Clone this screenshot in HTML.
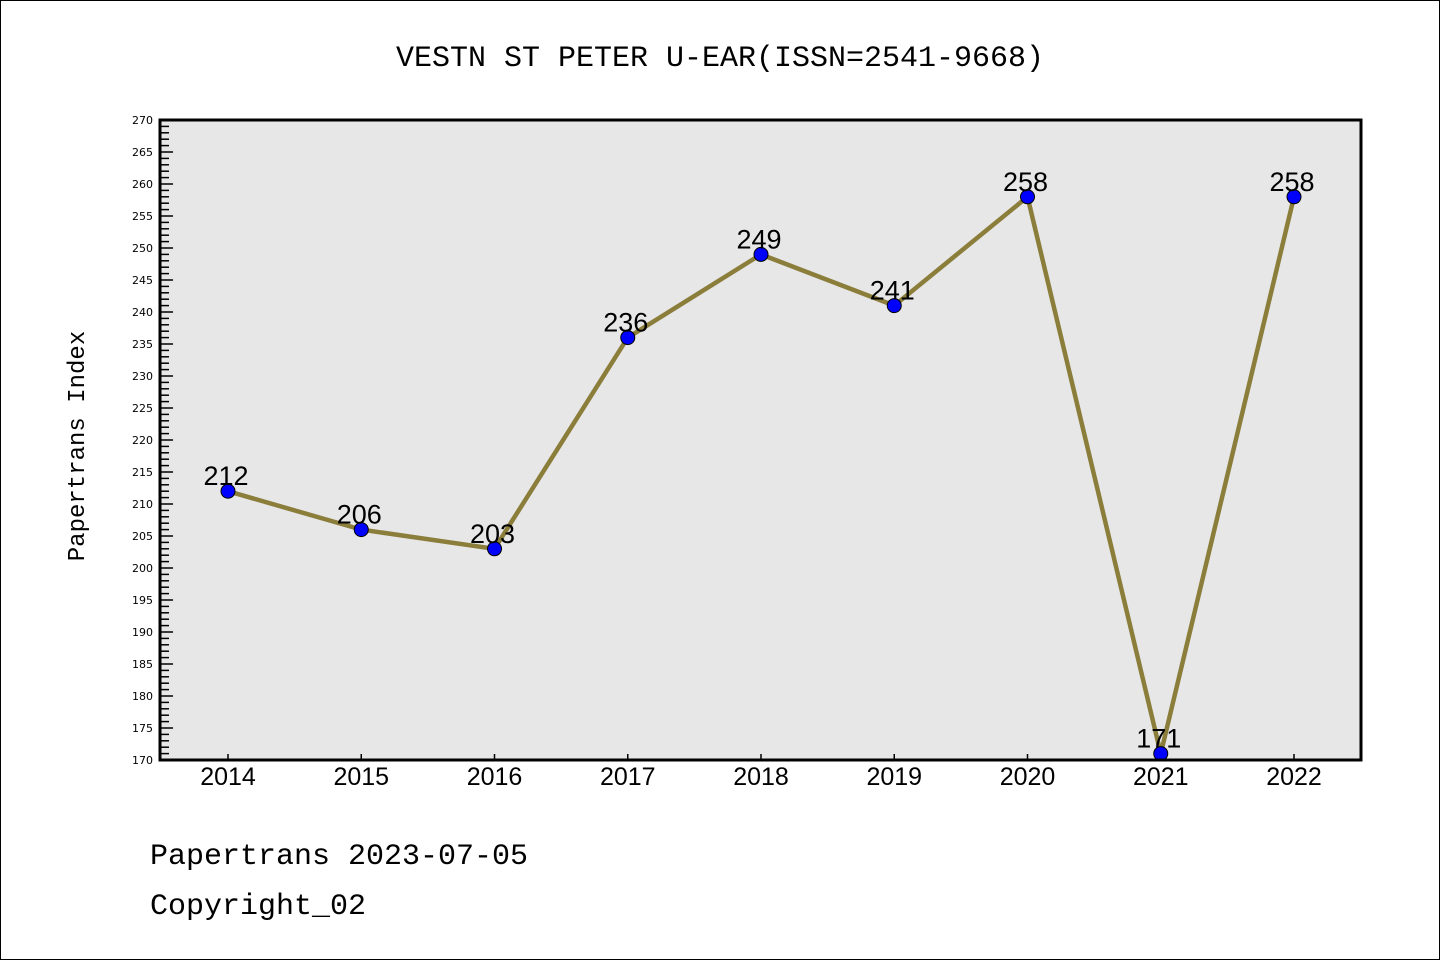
<!DOCTYPE html>
<html><head><meta charset="utf-8"><style>
html,body{margin:0;padding:0;background:#fff}
svg{display:block}
text.mono{font-family:"Liberation Mono","DejaVu Sans Mono",monospace}
</style></head><body>
<svg id="chart" width="1440" height="960" viewBox="0 0 1440 960">
<rect x="0.5" y="0.5" width="1439" height="959" fill="#fff" stroke="#000"/>
<text class="mono" x="720" y="66" text-anchor="middle" font-size="30">VESTN ST PETER U-EAR(ISSN=2541-9668)</text>
<rect x="160" y="120" width="1201" height="640" fill="#e7e7e7"/>
<g id="yaxis"></g>
<g id="xaxis"></g>
<g id="series"></g>
<rect x="160" y="120" width="1201" height="640" fill="none" stroke="#000" stroke-width="3"/>
<text class="mono" transform="translate(84,446) rotate(-90)" text-anchor="middle" font-size="24">Papertrans Index</text>
<text class="mono" x="150" y="864" font-size="30">Papertrans 2023-07-05</text>
<text class="mono" x="150" y="914" font-size="30">Copyright_02</text>
</svg>
<script>
const categories=["2014","2015","2016","2017","2018","2019","2020","2021","2022"];
const values=[212,206,203,236,249,241,258,171,258];
const yTicks=[170,175,180,185,190,195,200,205,210,215,220,225,230,235,240,245,250,255,260,265,270];
{
const NS="http://www.w3.org/2000/svg";
const yMin=170,yMax=270,plotTop=120,plotBottom=760;
function yS(v){return plotBottom-(v-yMin)/(yMax-yMin)*(plotBottom-plotTop);}
function xS(i){return 228+i*133.25;}
function mk(t,a,p){const e=document.createElementNS(NS,t);for(const k in a)e.setAttribute(k,a[k]);p.appendChild(e);return e;}
const ya=document.getElementById('yaxis');
for(let v=yMin;v<=yMax;v++){
  const major=v%5===0;
  const l=mk('line',{x1:160,x2:160+(major?13:9),y1:yS(v),y2:yS(v),stroke:'#000','stroke-width':1.5},ya);
  
  
}
yTicks.forEach(v=>{
  const t=mk('text',{x:153,y:yS(v)+4,'text-anchor':'end',style:'font-family:"DejaVu Sans",sans-serif;font-size:11px'},ya);
  t.textContent=v;
  
  
});
const xa=document.getElementById('xaxis');
categories.forEach((c,i)=>{
  const l=mk('line',{x1:xS(i),x2:xS(i),y1:plotBottom,y2:plotBottom-6,stroke:'#000','stroke-width':1.5},xa);
  
  
  const t=mk('text',{x:xS(i),y:785,'text-anchor':'middle',style:'font-family:"Liberation Sans",sans-serif;font-size:25px'},xa);
  t.textContent=c;
  
  
});
const s=document.getElementById('series');
const pl=mk('polyline',{points:values.map((v,i)=>xS(i)+','+yS(v)).join(' '),fill:'none',stroke:'#8b7d3a','stroke-width':4.5},s);


values.forEach((v,i)=>{
  const c=mk('circle',{cx:xS(i),cy:yS(v),r:7,fill:'#0000ff',stroke:'#000','stroke-width':1},s);
  
  
  const t=mk('text',{x:xS(i)-2,y:yS(v)-6,'text-anchor':'middle',style:'font-family:"Liberation Sans",sans-serif;font-size:27px'},s);
  t.textContent=v;
  
  
});
}
</script>
</body></html>
